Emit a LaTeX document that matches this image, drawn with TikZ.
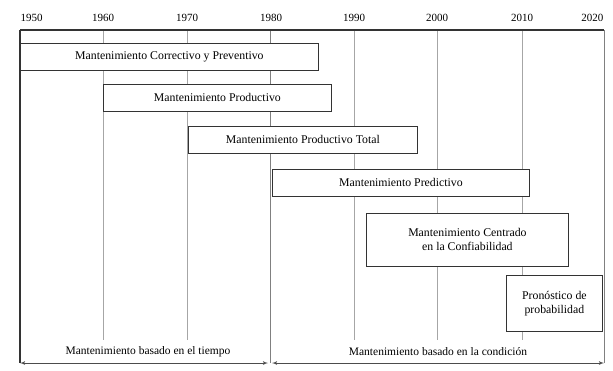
\documentclass[tikz,border=0pt]{standalone}
\usepackage{fontspec}
\setmainfont{Liberation Serif}
\usetikzlibrary{arrows,positioning}

\tikzset{
  period/.style={draw=black!80,thick,fill=white,anchor=north west,inner sep=2pt,
    align=center,font=\fontsize{11.8}{14}\selectfont},
  grid/.style={draw=black!35,thin},
  yearlbl/.style={font=\fontsize{11}{12}\selectfont},
  eralbl/.style={font=\fontsize{11.5}{12}\selectfont,fill=white,inner sep=1pt}
}

\begin{document}
\begin{tikzpicture}[x=1pt,y=-1pt,>=latex',thick]
  \useasboundingbox (0,0) rectangle (613,370);
  % grid of decades
  \foreach \x/\yr in {103/1960,187/1970,354/1990,437/2000,522/2010}{
    \coordinate (t\yr) at (\x,30);
    \coordinate (b\yr) at (\x,340);
    \draw[grid] (t\yr) -- (b\yr);
    \node[yearlbl] (y\yr) at (\x,18) {\yr};
  }
  \node[yearlbl,anchor=west] (y1950) at (17,18) {1950};
  \node[yearlbl] (y1980) at (271,18) {1980};
  \node[yearlbl,anchor=east] (y2020) at (607,18) {2020};
  \coordinate (tl) at (20,30);
  \coordinate (bl) at (20,363);
  \coordinate (tm) at (270,30);
  \coordinate (bm) at (270,363);
  \coordinate (tr) at (604,30);
  \coordinate (br) at (604,363);
  \draw[black!50,thin] (tm) -- (bm);
  \draw[black!50,thin] (tr) -- (br);
  % periods
  \node[period,minimum width=298pt,minimum height=27pt] (MCP) at (20,43)
    {Mantenimiento Correctivo y Preventivo};
  \node[period,minimum width=228pt,minimum height=27pt] (MP) at (103,84)
    {Mantenimiento Productivo};
  \node[period,minimum width=229pt,minimum height=27pt] (MPT) at (188,126)
    {Mantenimiento Productivo Total};
  \node[period,minimum width=257pt,minimum height=27pt] (MPd) at (272,169)
    {Mantenimiento Predictivo};
  \node[period,minimum width=202pt,minimum height=53pt] (MCC) at (366,213)
    {Mantenimiento Centrado\\en la Confiabilidad};
  \node[period,minimum width=96pt,minimum height=56pt] (PP) at (506,275)
    {Pronóstico de\\probabilidad};
  % frame
  \draw[line width=1.6pt,black!80] (tl) -- (tr);
  \draw[line width=1.2pt,black!80] (tl) -- (bl);
  % eras
  \node[eralbl] (Etiempo) at (148,352) {Mantenimiento basado en el tiempo};
  \node[eralbl] (Econd) at (438,352) {Mantenimiento basado en la condición};
  \coordinate (bm1) at (268,363);
  \coordinate (bm2) at (272,363);
  \draw[<->,black!70] (bl) -- (bm1);
  \draw[<->,black!70] (bm2) -- (br);
\end{tikzpicture}
\end{document}
